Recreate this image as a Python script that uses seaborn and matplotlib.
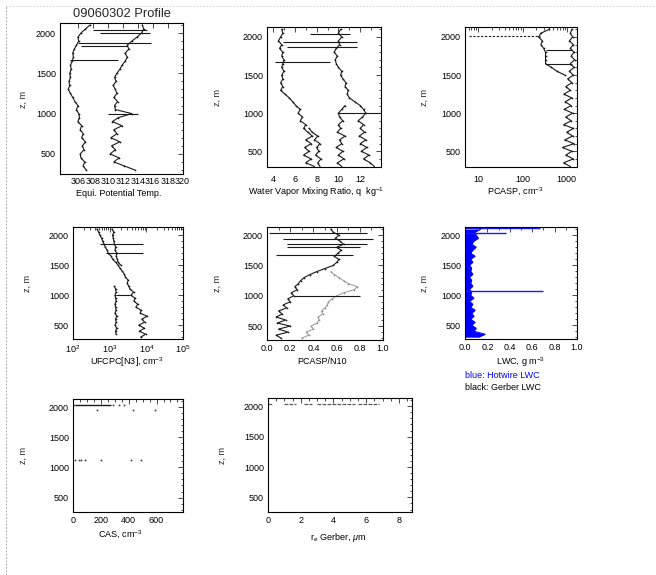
import matplotlib
matplotlib.use("Agg")
import matplotlib.pyplot as plt
import matplotlib.ticker as mt
from matplotlib.lines import Line2D
import seaborn as sns

# ---------------- data ----------------
Z = [300, 350, 400, 450, 500, 550, 600, 650, 700, 750,
     800, 850, 900, 950, 1000, 1050, 1100, 1150, 1200, 1250,
     1300, 1350, 1400, 1450, 1500, 1550, 1600, 1650, 1700, 1750,
     1800, 1850, 1900, 1950, 2000, 2050, 2100]

theta = [307.1, 306.7, 306.9, 306.4, 306.3, 306.8, 306.6, 307.0, 306.5, 306.7,
         306.3, 306.5, 306.0, 306.2, 306.1, 305.8, 306.0, 305.6, 305.3, 305.0,
         304.7, 304.9, 304.8, 305.0, 304.9, 305.1, 305.0, 305.2, 305.4, 305.3,
         305.5, 305.8, 306.1, 306.0, 306.4, 307.0, 307.6]
theta_e = [313.6, 312.2, 310.8, 311.5, 310.3, 311.0, 310.5, 311.6, 310.4, 311.2,
           310.8, 311.9, 310.6, 311.4, 313.2, 311.0, 310.9, 311.3, 310.8, 311.2,
           311.0, 310.7, 311.1, 310.9, 311.2, 311.6, 311.9, 312.3, 312.6, 312.3,
           312.8, 312.6, 313.2, 313.9, 314.5, 314.8, 314.6]
p1_spike_z = [2040, 2000, 1880, 1835, 1667, 1000]
p1_spike_lo = [308.0, 309.0, 306.0, 306.4, 304.9, 310.0]
p1_spike_hi = [315.2, 315.7, 315.8, 312.6, 311.4, 314.0]

q_left = [7.8, 7.0, 7.5, 6.8, 7.3, 6.9, 7.5, 7.0, 7.6, 7.2,
          6.8, 7.0, 6.5, 6.7, 6.3, 6.5, 6.1, 5.8, 5.5, 5.1,
          4.7, 4.9, 4.7, 4.9, 4.8, 5.0, 4.8, 4.9, 5.0, 4.8,
          4.9, 4.6, 4.8, 4.5, 4.7, 4.9, 4.8]
q_mid = [8.3, 8.1, 8.4, 7.9, 8.2, 8.0, 8.3, 7.8, 8.1, 7.6, 7.3]
q_r1 = [10.3, 9.9, 10.5, 10.0, 10.4, 9.8, 10.3, 10.1, 10.6, 9.9,
        10.2, 10.0, 10.4, 10.1, 10.0, 10.3, 10.6]
q_r2 = [13.3, 12.9, 12.3, 12.8, 12.1, 12.6, 12.0, 12.5, 11.9, 12.4,
        12.0, 12.3, 11.8, 12.2, 12.5, 12.3, 12.0, 11.5, 11.0, 10.8,
        10.9, 10.6, 10.7, 10.4, 10.2, 10.3, 10.0, 9.8, 9.7, 9.9,
        9.6, 9.8, 10.1, 10.0, 10.3, 10.0, 10.2]
p2_spike_z = [2044, 1935, 1866, 1674, 1000]
p2_spike_lo = [7.4, 4.9, 5.3, 4.2, 10.0]
p2_spike_hi = [11.1, 11.7, 11.7, 9.25, 13.9]

pcasp_a = [1200, 850, 1400, 950, 1300, 800, 1450, 900, 1350, 1000,
           1400, 850, 1250, 950, 1350, 880, 1250, 920, 1300, 860,
           1200, 950, 1300, 1050, 1400, 1150, 1450, 1200, 1500, 1250,
           1450, 1200, 1400, 1150, 1350, 1200, 1300]
pcasp_b = [900, 600, 450, 330, 330, 330, 330, 300, 260, 280, 230, 260, 400]
p3_spike_z = [1830, 1650]
p3_spike_lo = [330, 330]
p3_spike_hi = [1300, 1300]
p3_dotted_z = [2015]
p3_dotted_lo = [6]
p3_dotted_hi = [250]

ufcpc_a = [7000, 9500, 6500, 8800, 6200, 9000, 7500, 10500, 6800, 7200,
           5200, 5800, 4600, 4900, 3800, 4500, 3600, 3300, 3000, 3200,
           2700, 2500, 2200, 1900, 1700, 1450, 1200, 1100, 900, 850,
           760, 700, 640, 600, 540, 500, 450]
ufcpc_b = [2000, 1700, 1600, 1500, 1550, 1400, 1450, 1350, 1300, 1250, 1200, 1300, 1150]
ufcpc_c = [1500, 1450, 1550, 1400, 1500, 1450, 1550, 1400, 1500, 1450,
           1400, 1500, 1450, 1400, 1500, 1450, 1350]
p4_spike_z = [1860, 1700, 1000]
p4_spike_lo = [540, 800, 1500]
p4_spike_hi = [7900, 8000, 3500]

ratio_a = [0.12, 0.08, 0.18, 0.10, 0.20, 0.09, 0.16, 0.08, 0.13, 0.10,
           0.17, 0.14, 0.20, 0.18, 0.23, 0.21, 0.26, 0.24, 0.27, 0.29,
           0.32, 0.37, 0.43, 0.50, 0.57, 0.60, 0.62, 0.58, 0.61, 0.64,
           0.60, 0.66, 0.63, 0.59, 0.62, 0.57, 0.55]
ratio_b = [0.30, 0.36, 0.34, 0.40, 0.38, 0.43, 0.45, 0.44, 0.48, 0.47,
           0.50, 0.52, 0.53, 0.56, 0.60, 0.66, 0.75, 0.78, 0.70, 0.66,
           0.62, 0.58, 0.55]
p5_spike_z = [2028, 1945, 1862, 1805, 1667, 1000]
p5_spike_lo = [0.02, 0.14, 0.17, 0.17, 0.08, 0.23]
p5_spike_hi = [0.86, 0.91, 0.86, 0.80, 0.74, 0.80]

lwc_hotwire = [0.12, 0.18, 0.08, 0.10, 0.06, 0.09, 0.05, 0.08, 0.06, 0.09,
               0.05, 0.07, 0.04, 0.08, 0.05, 0.06, 0.04, 0.07, 0.05, 0.06,
               0.04, 0.07, 0.05, 0.06, 0.04, 0.07, 0.05, 0.09, 0.05, 0.07,
               0.10, 0.06, 0.08, 0.12, 0.10, 0.09, 0.14]
p6_spike_z = [2125, 2030, 1072]
p6_spike_hi = [0.67, 0.37, 0.70]

cas_line_lo = [17]
cas_line_hi = [270]
cas_line_z = [2038]
cas_x = [5, 290, 330, 369, 175, 430, 588, 17, 40, 60, 85, 200, 420, 490]
cas_z = [2038, 2038, 2038, 2038, 1955, 1955, 1955, 1130, 1130, 1130, 1130, 1130, 1130, 1130]

re_seg_lo = [0.0, 1.0, 2.2, 3.0, 5.5]
re_seg_hi = [0.3, 1.7, 2.7, 5.3, 6.8]
re_seg_z = [2030, 2030, 2030, 2030, 2030]

# ---------------- styling ----------------
sns.set_theme(style="white")
plt.rcParams["font.family"] = ["Liberation Sans", "DejaVu Sans"]
plt.rcParams["mathtext.fontset"] = "custom"
plt.rcParams["mathtext.rm"] = "Liberation Sans"
plt.rcParams["mathtext.it"] = "Liberation Sans:italic"
plt.rcParams["axes.linewidth"] = 0.8
plt.rcParams["axes.edgecolor"] = "black"

W, H = 656, 575
FS = 6.5
fig = plt.figure(figsize=(W / 100, H / 100), dpi=100)
fig.patch.set_facecolor("white")


def add_ax(l, r, t, b):
    return fig.add_axes([l / W, 1 - b / H, (r - l) / W, (b - t) / H])


def style(ax, ylim, xlim, xmajor=None, xminor=None, xpad=3):
    ax.set_ylim(*ylim)
    ax.set_xlim(*xlim)
    ax.yaxis.set_major_locator(mt.FixedLocator([500, 1000, 1500, 2000]))
    ax.yaxis.set_minor_locator(mt.MultipleLocator(100))
    if xmajor is not None:
        ax.xaxis.set_major_locator(xmajor)
    if xminor is not None:
        ax.xaxis.set_minor_locator(xminor)
    ax.tick_params(which="both", direction="in", top=True, right=True,
                   labelsize=FS, width=0.5, colors="black")
    ax.tick_params(which="major", length=3.5)
    ax.tick_params(which="minor", length=1.8)
    ax.tick_params(axis="x", pad=xpad)
    ax.tick_params(axis="y", pad=3)
    ax.set_xlabel("")
    ax.set_ylabel("")
    for s in ax.spines.values():
        s.set_color("black")
        s.set_linewidth(0.8)


def prof(ax, x, z, color="k", lw=0.8):
    sns.lineplot(x=x, y=z, sort=False, estimator=None, color=color, lw=lw,
                 marker=".", markersize=2.5, markeredgewidth=0, ax=ax)


def ylab(x, y):
    fig.text(x / W, 1 - y / H, "z, m", rotation=90, ha="center", va="center", fontsize=FS)


def xlab(x, y, s, color="black", ha="center"):
    fig.text(x / W, 1 - y / H, s, ha=ha, va="center", fontsize=FS, color=color)


# ---- Panel 1: potential temperatures ----
ax1 = add_ax(60, 183, 23, 174)
prof(ax1, theta, Z)
prof(ax1, theta_e, Z)
ax1.hlines(p1_spike_z, p1_spike_lo, p1_spike_hi, color="k", lw=0.8)
style(ax1, (250, 2125), (303.6, 320.05), mt.FixedLocator([306, 308, 310, 312, 314, 316, 318, 320]),
      None, xpad=2.5)
ax1.xaxis.set_major_formatter(mt.FormatStrFormatter("%d"))
fig.text(122 / W, 1 - 14 / H, "09060302 Profile", ha="center", va="center", fontsize=9.3)
ylab(23, 100)
xlab(119, 193, "Equi. Potential Temp.")

# ---- Panel 2: mixing ratio ----
ax2 = add_ax(267, 381, 27, 167)
prof(ax2, q_left, Z)
prof(ax2, q_mid, Z[:11])
prof(ax2, q_r1, Z[:17])
prof(ax2, q_r2, Z)
ax2.hlines(p2_spike_z, p2_spike_lo, p2_spike_hi, color="k", lw=0.8)
style(ax2, (294, 2131), (3.45, 13.9), mt.FixedLocator([4, 6, 8, 10, 12]), mt.MultipleLocator(1), xpad=6)
ax2.xaxis.set_major_formatter(mt.FormatStrFormatter("%d"))
ylab(217, 97)
xlab(316, 192, "Water Vapor Mixing Ratio, q  kg$^{-1}$")

# ---- Panel 3: PCASP ----
ax3 = add_ax(465, 577, 27, 167)
ax3.set_xscale("log")
prof(ax3, pcasp_a, Z)
prof(ax3, pcasp_b, Z[24:])
ax3.hlines(p3_spike_z, p3_spike_lo, p3_spike_hi, color="k", lw=0.8)
ax3.hlines(p3_dotted_z, p3_dotted_lo, p3_dotted_hi, color="k", lw=0.8, linestyles=(0, (2, 1.5)))
style(ax3, (294, 2131), (5, 1700), mt.FixedLocator([10, 100, 1000]),
      mt.LogLocator(base=10, subs=range(2, 10)), xpad=6)
ax3.xaxis.set_major_formatter(mt.FixedFormatter(["10", "100", "1000"]))
ax3.xaxis.set_minor_formatter(mt.NullFormatter())
ylab(424, 97)
xlab(515, 192, "PCASP, cm$^{-3}$")

# ---- Panel 4: UFCPC ----
ax4 = add_ax(73, 183, 227, 339)
ax4.set_xscale("log")
prof(ax4, ufcpc_a, Z)
prof(ax4, ufcpc_b, Z[24:])
prof(ax4, ufcpc_c, Z[1:18])
ax4.hlines(p4_spike_z, p4_spike_lo, p4_spike_hi, color="k", lw=0.8)
style(ax4, (270, 2135), (100, 1e5), mt.LogLocator(base=10, numticks=10),
      mt.LogLocator(base=10, subs=range(2, 10), numticks=10), xpad=3)
ax4.xaxis.set_minor_formatter(mt.NullFormatter())
ylab(27, 283)
xlab(127, 362, "UFCPC[N3], cm$^{-3}$")

# ---- Panel 5: PCASP/N10 ----
ax5 = add_ax(267, 383, 227, 340)
sns.lineplot(x=ratio_b, y=Z[:23], sort=False, estimator=None, color="0.55", lw=0.6,
             marker=".", markersize=2.5, markeredgewidth=0, ax=ax5)
prof(ax5, ratio_a, Z)
ax5.hlines(p5_spike_z, p5_spike_lo, p5_spike_hi, color="k", lw=0.8)
style(ax5, (270, 2135), (0, 1), mt.MultipleLocator(0.2), mt.MultipleLocator(0.1), xpad=3)
ax5.xaxis.set_major_formatter(mt.FormatStrFormatter("%.1f"))
ylab(217, 283)
xlab(322, 362, "PCASP/N10")

# ---- Panel 6: LWC ----
ax6 = add_ax(465, 577, 227, 339)
ax6.fill_betweenx(Z, 0, lwc_hotwire, color="blue", lw=0)
sns.lineplot(x=lwc_hotwire, y=Z, sort=False, estimator=None, color="blue", lw=0.7, ax=ax6)
ax6.hlines(p6_spike_z, 0, p6_spike_hi, color="#1a1aff", lw=1.0)
style(ax6, (270, 2135), (0, 1), mt.MultipleLocator(0.2), mt.MultipleLocator(0.1), xpad=3)
ax6.xaxis.set_major_formatter(mt.FormatStrFormatter("%.1f"))
ylab(424, 283)
xlab(520, 362, "LWC, g m$^{-3}$")
xlab(465, 375, "blue: Hotwire LWC", color="blue", ha="left")
xlab(465, 387, "black: Gerber LWC", color="black", ha="left")

# ---- Panel 7: CAS ----
ax7 = add_ax(73, 183, 399, 512)
ax7.hlines(cas_line_z, cas_line_lo, cas_line_hi, color="k", lw=1.0)
sns.scatterplot(x=cas_x, y=cas_z, color="0.3", s=2, linewidth=0, ax=ax7)
style(ax7, (260, 2135), (0, 790), mt.FixedLocator([0, 200, 400, 600]), mt.MultipleLocator(50), xpad=3)
ax7.xaxis.set_major_formatter(mt.FormatStrFormatter("%d"))
ylab(23, 455)
xlab(120, 535, "CAS, cm$^{-3}$")

# ---- Panel 8: r_e Gerber ----
ax8 = add_ax(268, 412, 398, 512)
ax8.hlines(re_seg_z, re_seg_lo, re_seg_hi, color="0.35", lw=0.9, linestyles=(0, (3, 1)))
style(ax8, (260, 2135), (0, 8.8), mt.MultipleLocator(2), mt.MultipleLocator(0.5), xpad=3)
ax8.xaxis.set_major_formatter(mt.FormatStrFormatter("%d"))
ylab(222, 455)
xlab(338, 537, "r$_e$ Gerber, $\\mu$m")

# dashed page border (left and top)
fig.add_artist(Line2D([6 / W, 6 / W], [0, 1 - 6 / H], transform=fig.transFigure,
                      color="0.6", lw=0.6, ls=(0, (2, 2))))
fig.add_artist(Line2D([6 / W, 1], [1 - 6 / H, 1 - 6 / H], transform=fig.transFigure,
                      color="0.8", lw=0.6, ls=(0, (2, 2))))

fig.savefig("out.png", dpi=100, facecolor="white")
